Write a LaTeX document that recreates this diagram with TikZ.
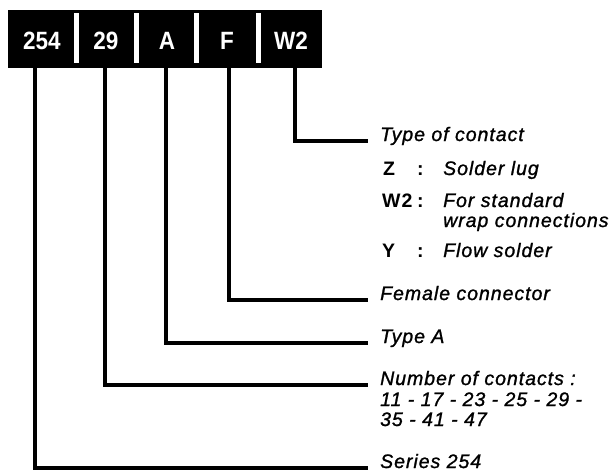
\documentclass[tikz,border=0pt]{standalone}
\usepackage{fontspec}
\setmainfont{Liberation Sans}[LetterSpace=5, ItalicFeatures={FakeBold=1.2}]
\newfontfamily\barfont{Liberation Sans}[FakeStretch=0.9]
\begin{document}
\begin{tikzpicture}[x=1pt,y=-1pt,
  field/.style={font=\barfont\bfseries\fontsize{25}{25}\selectfont, text=white, inner sep=0pt, anchor=center},
  sep/.style={fill=white, draw=none},
  lead/.style={line width=3.6pt, line cap=butt, line join=miter},
  desc/.style={font=\itshape\fontsize{19.5}{21}\selectfont, anchor=base west, inner sep=0pt},
  code/.style={font=\bfseries\fontsize{19.5}{21}\selectfont, anchor=base west, inner sep=0pt}]
  \useasboundingbox (0,0) rectangle (613,471);

  % code bar
  \node[fill=black, minimum width=314pt, minimum height=58pt, inner sep=0pt, anchor=north west] (bar) at (8,10) {};
  \foreach \x in {76,136,196,258} \fill[sep] (\x-2.5,13) rectangle (\x+2.5,63);
  \node[field] (f254) at (42,41) {254};
  \node[field] (f29)  at (106,41) {29};
  \node[field] (fA)   at (167,41) {A};
  \node[field] (fF)   at (227,41) {F};
  \node[field] (fW)   at (291,41) {W2};

  % leader start points at the bar's lower edge
  \coordinate (s254) at (35,68);
  \coordinate (s29)  at (105,68);
  \coordinate (sA)   at (166,68);
  \coordinate (sF)   at (229,68);
  \coordinate (sW)   at (295,68);

  % leader end points
  \coordinate (eW)   at (368,141);
  \coordinate (eF)   at (368,300);
  \coordinate (eA)   at (368,343);
  \coordinate (e29)  at (368,385);
  \coordinate (e254) at (368,468);

  % descriptions
  \node[desc] (lW)   at (380,141) {Type of contact};
  \node[code] (cZ)   at (383,175) {Z};
  \node[code] (kZ)   at (417,175) {:};
  \node[desc] (tZ)   at (443,175) {Solder lug};
  \node[code] (cW)   at (382,207) {W2};
  \node[code] (kW)   at (417,207) {:};
  \node[desc] (tW)   at (443,207) {For standard};
  \node[desc] (tW2)  at (443,227) {wrap connections};
  \node[code] (cY)   at (382,257) {Y};
  \node[code] (kY)   at (417,257) {:};
  \node[desc] (tY)   at (443,257) {Flow solder};
  \node[desc] (lF)   at (380,300) {Female connector};
  \node[desc] (lA)   at (380,343) {Type A};
  \node[desc] (l29)  at (380,385) {Number of contacts :};
  \node[desc] (l29b) at (380,406) {11 - 17 - 23 - 25 - 29 -};
  \node[desc] (l29c) at (380,426) {35 - 41 - 47};
  \node[desc] (l254) at (380,468) {Series 254};

  % leaders
  \draw[lead] (sW)   |- (eW);
  \draw[lead] (sF)   |- (eF);
  \draw[lead] (sA)   |- (eA);
  \draw[lead] (s29)  |- (e29);
  \draw[lead] (s254) |- (e254);
\end{tikzpicture}
\end{document}
